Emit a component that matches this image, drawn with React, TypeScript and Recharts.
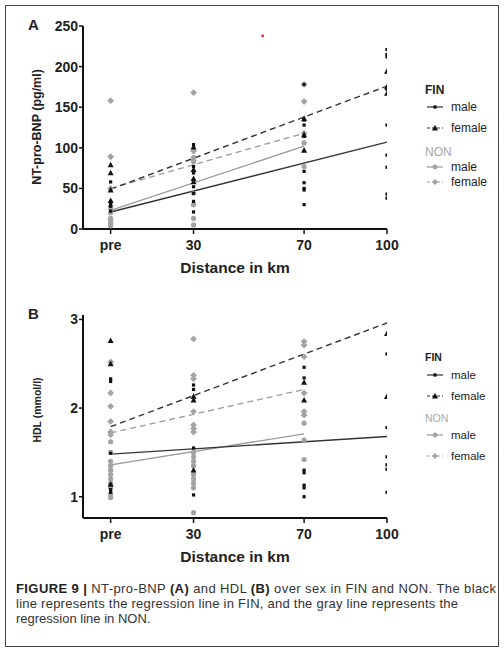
import React from "react";
import { ComposedChart, Scatter, Line, XAxis, YAxis } from "recharts";

// x positions (km); "pre" is drawn at 0
const distances = [0, 30, 70, 100];
const distanceLabels = ["pre", "30", "70", "100"];

// Panel A – NT-pro-BNP (pg/ml), one list of values per distance
const finMaleA = [
  [58, 34, 31, 28, 22],
  [104, 77, 69, 52, 44, 34, 21],
  [178, 134, 128, 114, 71, 57, 50, 48, 30],
  [221, 215, 212, 172, 128, 91, 76, 43, 38],
];
const finFemaleA = [
  [79, 69, 48, 35],
  [101, 73, 62, 58],
  [136, 116, 97],
  [194, 175, 167],
];
const nonMaleA = [
  [25, 20, 13, 10, 7, 4],
  [88, 83, 44, 30, 13, 5],
  [106, 77],
  [],
];
const nonFemaleA = [
  [158, 89, 50, 28],
  [168, 96, 84],
  [178, 157, 118],
  [],
];
const strayA = [{ x: 55, y: 238 }];

// regression lines: start/end values
const finFitX = [0, 100];
const nonFitX = [0, 70];
const finMaleFitA = [21, 107];
const finFemaleFitA = [49, 176];
const nonMaleFitA = [23, 102];
const nonFemaleFitA = [50, 118];

// Panel B – HDL (mmol/l)
const finMaleB = [
  [2.33, 2.3, 1.49, 1.08, 1.05],
  [2.26, 2.21, 1.55, 1.02],
  [2.46, 2.34, 1.3, 1.27, 1.13, 1.1, 1.0],
  [2.61, 1.78, 1.45, 1.36, 1.31, 1.05],
];
const finFemaleB = [
  [2.76, 2.5, 1.14],
  [2.13, 2.09, 1.3],
  [2.29, 2.09],
  [2.84, 2.13],
];
const nonMaleB = [
  [1.62, 1.5, 1.4, 1.35, 1.3, 1.25, 1.2, 1.15, 1.1, 1.03, 0.99],
  [1.5, 1.45, 1.4, 1.35, 1.25, 1.2, 1.15, 1.1, 0.82],
  [1.83, 1.64, 1.42],
  [],
];
const nonFemaleB = [
  [2.52, 2.17, 2.02, 1.85, 1.73, 1.7],
  [2.78, 2.37, 2.33, 1.96, 1.81, 1.77, 1.73],
  [2.75, 2.71, 2.58, 2.17, 1.96, 1.92],
  [],
];
const finMaleFitB = [1.48, 1.68];
const finFemaleFitB = [1.79, 2.96];
const nonMaleFitB = [1.36, 1.71];
const nonFemaleFitB = [1.72, 2.21];

const yTicksA = [0, 50, 100, 150, 200, 250];
const yTicksB = [1, 2, 3];

const BLACK = "#111";
const GRAY = "#a3a3a3";
const FONT = "'Liberation Sans', Arial, sans-serif";

function toPoints(cols: number[][]) {
  return cols.flatMap((vals, i) => vals.map((y) => ({ x: distances[i], y })));
}
function toFit(xs: number[], ys: number[]) {
  return xs.map((x, i) => ({ x, y: ys[i] }));
}

const Square = (p: any) => <rect x={p.cx - 1.6} y={p.cy - 1.6} width={3.2} height={3.2} fill={BLACK} />;
const Tri = (p: any) => (
  <path d={`M${p.cx},${p.cy - 3.2}L${p.cx + 3},${p.cy + 2.4}L${p.cx - 3},${p.cy + 2.4}Z`} fill={BLACK} />
);
const Dot = (p: any) => <circle cx={p.cx} cy={p.cy} r={2.6} fill={GRAY} />;
const Diamond = (p: any) => (
  <path
    d={`M${p.cx},${p.cy - 3.4}L${p.cx + 3.4},${p.cy}L${p.cx},${p.cy + 3.4}L${p.cx - 3.4},${p.cy}Z`}
    fill={GRAY}
  />
);
const Stray = (p: any) => <circle cx={p.cx} cy={p.cy} r={1.6} fill="#e04040" />;

type PanelProps = {
  top: number;
  letter: string;
  yLabel: string;
  yLabelSize: number;
  yLabelCenter: number;
  domain: [number, number];
  ticks: number[];
  marginTop: number;
  marginBottom: number;
  finMale: number[][];
  finFemale: number[][];
  nonMale: number[][];
  nonFemale: number[][];
  fits: number[][];
  stray?: { x: number; y: number }[];
};

function Panel(props: PanelProps) {
  const W = 504;
  const H = 290;
  return (
    <div style={{ position: "absolute", left: 0, top: props.top, width: W, height: H }}>
      <ComposedChart
        width={W}
        height={H}
        margin={{ top: props.marginTop, right: 117, left: 33, bottom: props.marginBottom }}
      >
        <XAxis
          type="number"
          dataKey="x"
          domain={[-10, 100]}
          ticks={distances}
          tickFormatter={(v: number) => distanceLabels[distances.indexOf(v)]}
          axisLine={{ stroke: BLACK, strokeWidth: 2 }}
          tickLine={{ stroke: BLACK, strokeWidth: 1.5 }}
          tickSize={5}
          tickMargin={6}
          height={40}
          allowDataOverflow
          tick={{ fill: "#222", fontSize: 14, fontWeight: 700, fontFamily: FONT }}
          label={{
            content: (lp: any) => (
              <text
                x={lp.viewBox.x + lp.viewBox.width / 2}
                y={lp.viewBox.y + 38}
                textAnchor="middle"
                dominantBaseline="central"
                fontFamily={FONT}
                fontWeight={700}
                fontSize={15.5}
                fill="#222"
              >
                Distance in km
              </text>
            ),
          }}
        />
        <YAxis
          type="number"
          dataKey="y"
          domain={props.domain}
          ticks={props.ticks}
          width={50}
          allowDataOverflow
          axisLine={{ stroke: BLACK, strokeWidth: 2 }}
          tickLine={{ stroke: BLACK, strokeWidth: 1.5 }}
          tickSize={4}
          tickMargin={1}
          tick={{ fill: "#222", fontSize: 14, fontWeight: 700, fontFamily: FONT }}
          label={{
            content: () => (
              <text
                x={37}
                y={props.yLabelCenter}
                transform={`rotate(-90 37 ${props.yLabelCenter})`}
                textAnchor="middle"
                dominantBaseline="central"
                fontFamily={FONT}
                fontWeight={700}
                fontSize={props.yLabelSize}
                fill="#222"
              >
                {props.yLabel}
              </text>
            ),
          }}
        />
        <Scatter data={toPoints(props.nonMale)} shape={Dot} isAnimationActive={false} />
        <Scatter data={toPoints(props.nonFemale)} shape={Diamond} isAnimationActive={false} />
        <Scatter data={toPoints(props.finMale)} shape={Square} isAnimationActive={false} />
        <Scatter data={toPoints(props.finFemale)} shape={Tri} isAnimationActive={false} />
        {props.stray && <Scatter data={props.stray} shape={Stray} isAnimationActive={false} />}
        <Line data={toFit(nonFitX, props.fits[2])} dataKey="y" type="linear" stroke="#9a9a9a" strokeWidth={1.3} dot={false} isAnimationActive={false} />
        <Line data={toFit(nonFitX, props.fits[3])} dataKey="y" type="linear" stroke="#9a9a9a" strokeWidth={1.3} strokeDasharray="6 4" dot={false} isAnimationActive={false} />
        <Line data={toFit(finFitX, props.fits[0])} dataKey="y" type="linear" stroke="#333" strokeWidth={1.4} dot={false} isAnimationActive={false} />
        <Line data={toFit(finFitX, props.fits[1])} dataKey="y" type="linear" stroke="#333" strokeWidth={1.4} strokeDasharray="6 4" dot={false} isAnimationActive={false} />
      </ComposedChart>
      <div
        style={{
          position: "absolute",
          left: 28,
          top: props.marginTop - 10,
          fontFamily: FONT,
          fontWeight: 700,
          fontSize: 15,
          color: "#222",
        }}
      >
        {props.letter}
      </div>
    </div>
  );
}

type LegendProps = { top: number; rows: number[]; headSize: number; textSize: number };

function LegendBox({ top, rows, headSize, textSize }: LegendProps) {
  const sample = (kind: string, y: number) => {
    const gray = kind.startsWith("non");
    const col = gray ? "#9a9a9a" : "#333";
    const dash = kind.endsWith("F") ? "3 2" : undefined;
    const cx = 435;
    let mark: React.ReactNode = null;
    if (kind === "finM") mark = <rect x={cx - 1.6} y={y - 1.6} width={3.2} height={3.2} fill={BLACK} />;
    if (kind === "finF") mark = <path d={`M${cx},${y - 3.2}L${cx + 3},${y + 2.4}L${cx - 3},${y + 2.4}Z`} fill={BLACK} />;
    if (kind === "nonM") mark = <circle cx={cx} cy={y} r={2.4} fill={GRAY} />;
    if (kind === "nonF") mark = <path d={`M${cx},${y - 3}L${cx + 3},${y}L${cx},${y + 3}L${cx - 3},${y}Z`} fill={GRAY} />;
    return (
      <g key={kind}>
        <line x1={427} x2={443} y1={y} y2={y} stroke={col} strokeWidth={1.2} strokeDasharray={dash} />
        {mark}
      </g>
    );
  };
  const textStyle = { fontFamily: FONT, fontSize: textSize, fill: "#222" } as const;
  return (
    <svg style={{ position: "absolute", left: 0, top: 0 }} width={504} height={661}>
      <text x={425} y={top + rows[0]} dominantBaseline="central" fontFamily={FONT} fontWeight={700} fontSize={headSize} fill="#222">
        FIN
      </text>
      {sample("finM", top + rows[1])}
      <text x={451} y={top + rows[1]} dominantBaseline="central" {...textStyle}>male</text>
      {sample("finF", top + rows[2])}
      <text x={451} y={top + rows[2]} dominantBaseline="central" {...textStyle}>female</text>
      <text x={425} y={top + rows[3]} dominantBaseline="central" fontFamily={FONT} fontSize={headSize} fill="#a8a8a8">
        NON
      </text>
      {sample("nonM", top + rows[4])}
      <text x={451} y={top + rows[4]} dominantBaseline="central" {...textStyle}>male</text>
      {sample("nonF", top + rows[5])}
      <text x={451} y={top + rows[5]} dominantBaseline="central" {...textStyle}>female</text>
    </svg>
  );
}

const captionLines = [
  "NT-pro-BNP (A) and HDL (B) over sex in FIN and NON. The black",
  "line represents the regression line in FIN, and the gray line represents the",
  "regression line in NON.",
];

function Caption() {
  const bold = (s: string) =>
    s.split(/(\(A\)|\(B\))/).map((part, i) =>
      part === "(A)" || part === "(B)" ? <tspan key={i} fontWeight={700} fill="#222">{part}</tspan> : <tspan key={i}>{part}</tspan>
    );
  return (
    <svg style={{ position: "absolute", left: 0, top: 0 }} width={504} height={661}>
      <text x={16} y={588} dominantBaseline="central" fontFamily={FONT} fontSize={13} fill="#333" textLength={480} lengthAdjust="spacing">
        <tspan fontWeight={700} fill="#222">FIGURE 9 | </tspan>
        {bold(captionLines[0])}
      </text>
      <text x={16} y={603} dominantBaseline="central" fontFamily={FONT} fontSize={13} fill="#333" textLength={442} lengthAdjust="spacing">
        {captionLines[1]}
      </text>
      <text x={16} y={618} dominantBaseline="central" fontFamily={FONT} fontSize={13} fill="#333">
        {captionLines[2]}
      </text>
    </svg>
  );
}

export default function App() {
  return (
    <div style={{ position: "absolute", left: 0, top: 0, width: 504, height: 661, background: "#fff", overflow: "hidden" }}>
      <div style={{ position: "absolute", left: 5, top: 5, width: 492, height: 640, border: "1.5px solid #444" }} />
      <Panel
        top={0}
        letter="A"
        yLabel="NT-pro-BNP (pg/ml)"
        yLabelSize={12.5}
        yLabelCenter={127}
        domain={[0, 250]}
        ticks={yTicksA}
        marginTop={26}
        marginBottom={21}
        finMale={finMaleA}
        finFemale={finFemaleA}
        nonMale={nonMaleA}
        nonFemale={nonFemaleA}
        fits={[finMaleFitA, finFemaleFitA, nonMaleFitA, nonFemaleFitA]}
        stray={strayA}
      />
      <Panel
        top={290}
        letter="B"
        yLabel="HDL (mmol/l)"
        yLabelSize={10.5}
        yLabelCenter={120}
        domain={[0.76, 3.05]}
        ticks={yTicksB}
        marginTop={25}
        marginBottom={22}
        finMale={finMaleB}
        finFemale={finFemaleB}
        nonMale={nonMaleB}
        nonFemale={nonFemaleB}
        fits={[finMaleFitB, finFemaleFitB, nonMaleFitB, nonFemaleFitB]}
      />
      <LegendBox top={0} rows={[90, 107, 128, 152, 167, 182]} headSize={12} textSize={12} />
      <LegendBox top={290} rows={[67, 85, 106, 128, 145, 166]} headSize={10.5} textSize={11.5} />
      <Caption />
    </div>
  );
}
